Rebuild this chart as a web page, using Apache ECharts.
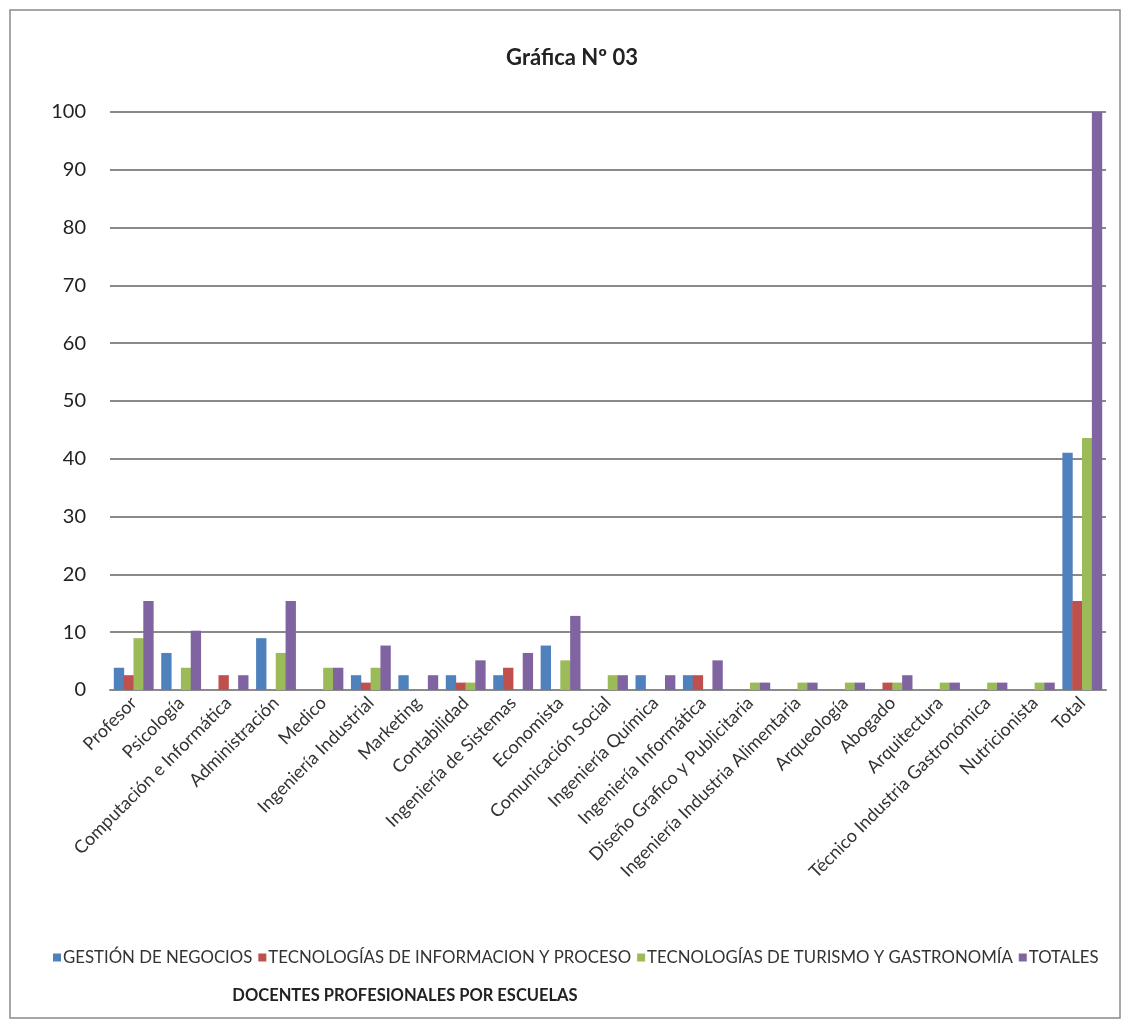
<!DOCTYPE html>
<html><head><meta charset="utf-8">
<script src="https://cdn.jsdelivr.net/npm/echarts@6/dist/echarts.min.js"></script>
<style>html,body{margin:0;padding:0;background:#fff}#c{width:1132px;height:1028px}</style>
</head><body><div id="c"></div>
<script>
const categories = ["Profesor","Psicología","Computación e Informática","Administración","Medico","Ingeniería Industrial","Marketing","Contabilidad","Ingeniería de Sistemas","Economista","Comunicación Social","Ingeniería Química","Ingeniería Informática","Diseño Grafico y Publicitaria","Ingeniería Industria Alimentaria","Arqueología","Abogado","Arquitectura","Técnico Industria Gastronómica","Nutricionista","Total"];
const seriesNames = ["GESTIÓN DE NEGOCIOS","TECNOLOGÍAS DE INFORMACION Y PROCESO","TECNOLOGÍAS DE TURISMO Y GASTRONOMÍA","TOTALES"];
const gestion   = [3.85,6.41,0,8.97,0,2.56,2.56,2.56,2.56,7.69,0,2.56,2.56,0,0,0,0,0,0,0,41.03];
const tecInfo   = [2.56,0,2.56,0,0,1.28,0,1.28,3.85,0,0,0,2.56,0,0,0,1.28,0,0,0,15.38];
const turismo   = [8.97,3.85,0,6.41,3.85,3.85,0,1.28,0,5.13,2.56,0,0,1.28,1.28,1.28,1.28,1.28,1.28,1.28,43.59];
const totales   = [15.38,10.26,2.56,15.38,3.85,7.69,2.56,5.13,6.41,12.82,2.56,2.56,5.13,1.28,1.28,1.28,2.56,1.28,1.28,1.28,100];
const yTicks = [0,10,20,30,40,50,60,70,80,90,100];
const colors = ["#4F81BD","#C0504D","#9BBB59","#8064A2"];
const FONT = "Lato";

const chart = echarts.init(document.getElementById('c'));
const dataSets = [gestion, tecInfo, turismo, totales];
chart.setOption({
  animation:false,
  backgroundColor:'#fff',
  textStyle:{fontFamily:FONT},
  title:[
    {text:'Gráfica Nº 03', left:567, top:42, textAlign:'center', textStyle:{fontFamily:FONT,fontSize:22,fontWeight:'bold',color:'#222'}},
    {text:'DOCENTES PROFESIONALES POR ESCUELAS', left:400, top:982, textAlign:'center', textStyle:{fontFamily:FONT,fontSize:16.5,fontWeight:'bold',color:'#222'}}
  ],
  graphic:[{type:'rect',shape:{x:10,y:10,width:1110,height:1008},style:{fill:'none',stroke:'#8a8a8a',lineWidth:1.5},silent:true}],
  legend:{
    data:seriesNames, left:48, top:944, itemWidth:8, itemHeight:8, itemGap:6, icon:'rect',
    textStyle:{fontFamily:FONT,fontSize:16.8,color:'#333',padding:[0,0,0,-3]}
  },
  grid:{left:110,right:26,top:112,bottom:338},
  xAxis:{
    type:'category', data:categories,
    axisLine:{lineStyle:{color:'#8a8a8a',width:2}},
    axisTick:{show:false},
    axisLabel:{rotate:45,interval:0,fontFamily:FONT,fontSize:18,color:'#333',margin:10}
  },
  yAxis:{
    type:'value', min:yTicks[0], max:yTicks[yTicks.length-1], interval:10,
    axisLine:{show:false}, axisTick:{show:false},
    axisLabel:{fontFamily:FONT,fontSize:20,color:'#222',margin:24},
    splitLine:{lineStyle:{color:'#8a8a8a',width:2}}
  },
  series:dataSets.map((d,i)=>({
    name:seriesNames[i], type:'bar', data:d, barGap:'-5%', barCategoryGap:'16%',
    itemStyle:{color:colors[i]}
  }))
});
</script></body></html>
